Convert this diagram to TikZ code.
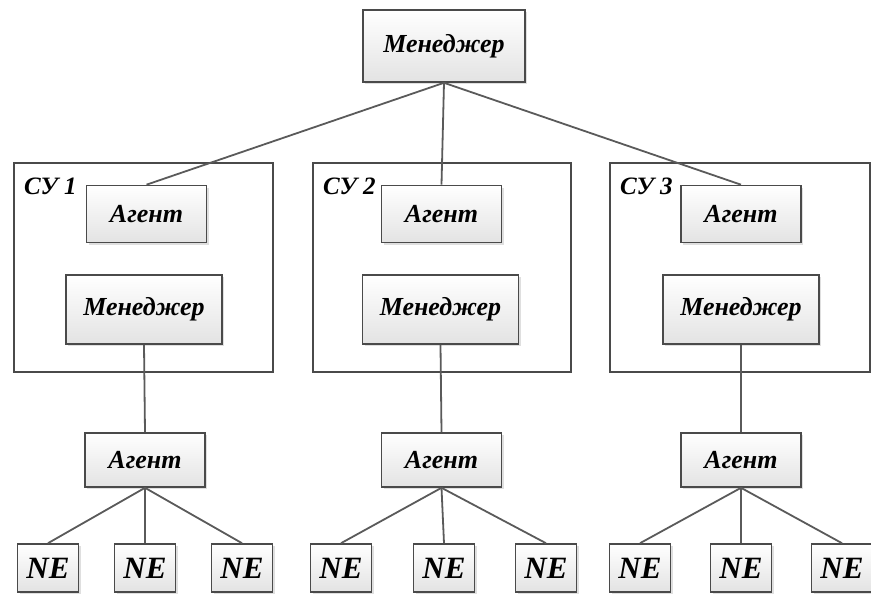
\documentclass[tikz,border=0pt]{standalone}
\usepackage{fontspec}
\setmainfont{Liberation Serif}
\usetikzlibrary{shadows}
\definecolor{boxline}{HTML}{4A4A4A}
\definecolor{wire}{HTML}{5A5A5A}
\begin{document}
\begin{tikzpicture}[x=1pt,y=-1pt,
  box/.style={draw=boxline, line width=1.6pt, top color=white, bottom color=gray!22,
    inner sep=0pt, font=\bfseries\itshape\fontsize{26}{29}\selectfont,
    drop shadow={shadow xshift=2pt, shadow yshift=-2pt, opacity=0.25, fill=gray}},
  agentbox/.style={box, minimum width=120pt, minimum height=57pt},
  mgrbox/.style={box, minimum width=156pt, minimum height=69pt},
  nebox/.style={box, minimum width=61pt, minimum height=48pt, font=\bfseries\itshape\fontsize{31}{34}\selectfont},
  group/.style={draw=boxline, line width=1.4pt},
  grouplabel/.style={anchor=west, inner sep=0pt, font=\bfseries\itshape\fontsize{25}{28}\selectfont},
  link/.style={draw=wire, line width=1.8pt}]
\useasboundingbox (0,0) rectangle (871,594);

% top-level manager
\node[box, minimum width=162pt, minimum height=72pt] (top) at (444,46) {Менеджер};

% control systems: frame, inner agent, inner manager, lower agent, network elements
\foreach \g/\x/\w/\ax/\mx/\lx/\na/\nb/\nc in
  {1/14/259/146.5/144/145/48/145/242,
   2/313/258/441.5/440.5/441.5/341/444/546,
   3/610/260/741/741/741/640/741/842}{
  \draw[group] (\x,163) rectangle ++(\w,209);
  \node[grouplabel] (lbl\g) at (\x+10,186) {СУ \g};
  \node[agentbox] (a\g) at (\ax,214) {Агент};
  \node[mgrbox] (m\g) at (\mx,309.5) {Менеджер};
  \node[agentbox, minimum height=54pt] (la\g) at (\lx,460) {Агент};
  \node[nebox] (ne\g a) at (\na,568) {NE};
  \node[nebox] (ne\g b) at (\nb,568) {NE};
  \node[nebox] (ne\g c) at (\nc,568) {NE};
}

% connectors
\foreach \g in {1,2,3}{
  \draw[link] (top.south) -- (a\g.north);
  \draw[link] (m\g.south) -- (la\g.north);
  \draw[link] (la\g.south) -- (ne\g a.north);
  \draw[link] (la\g.south) -- (ne\g b.north);
  \draw[link] (la\g.south) -- (ne\g c.north);
}
\end{tikzpicture}
\end{document}
